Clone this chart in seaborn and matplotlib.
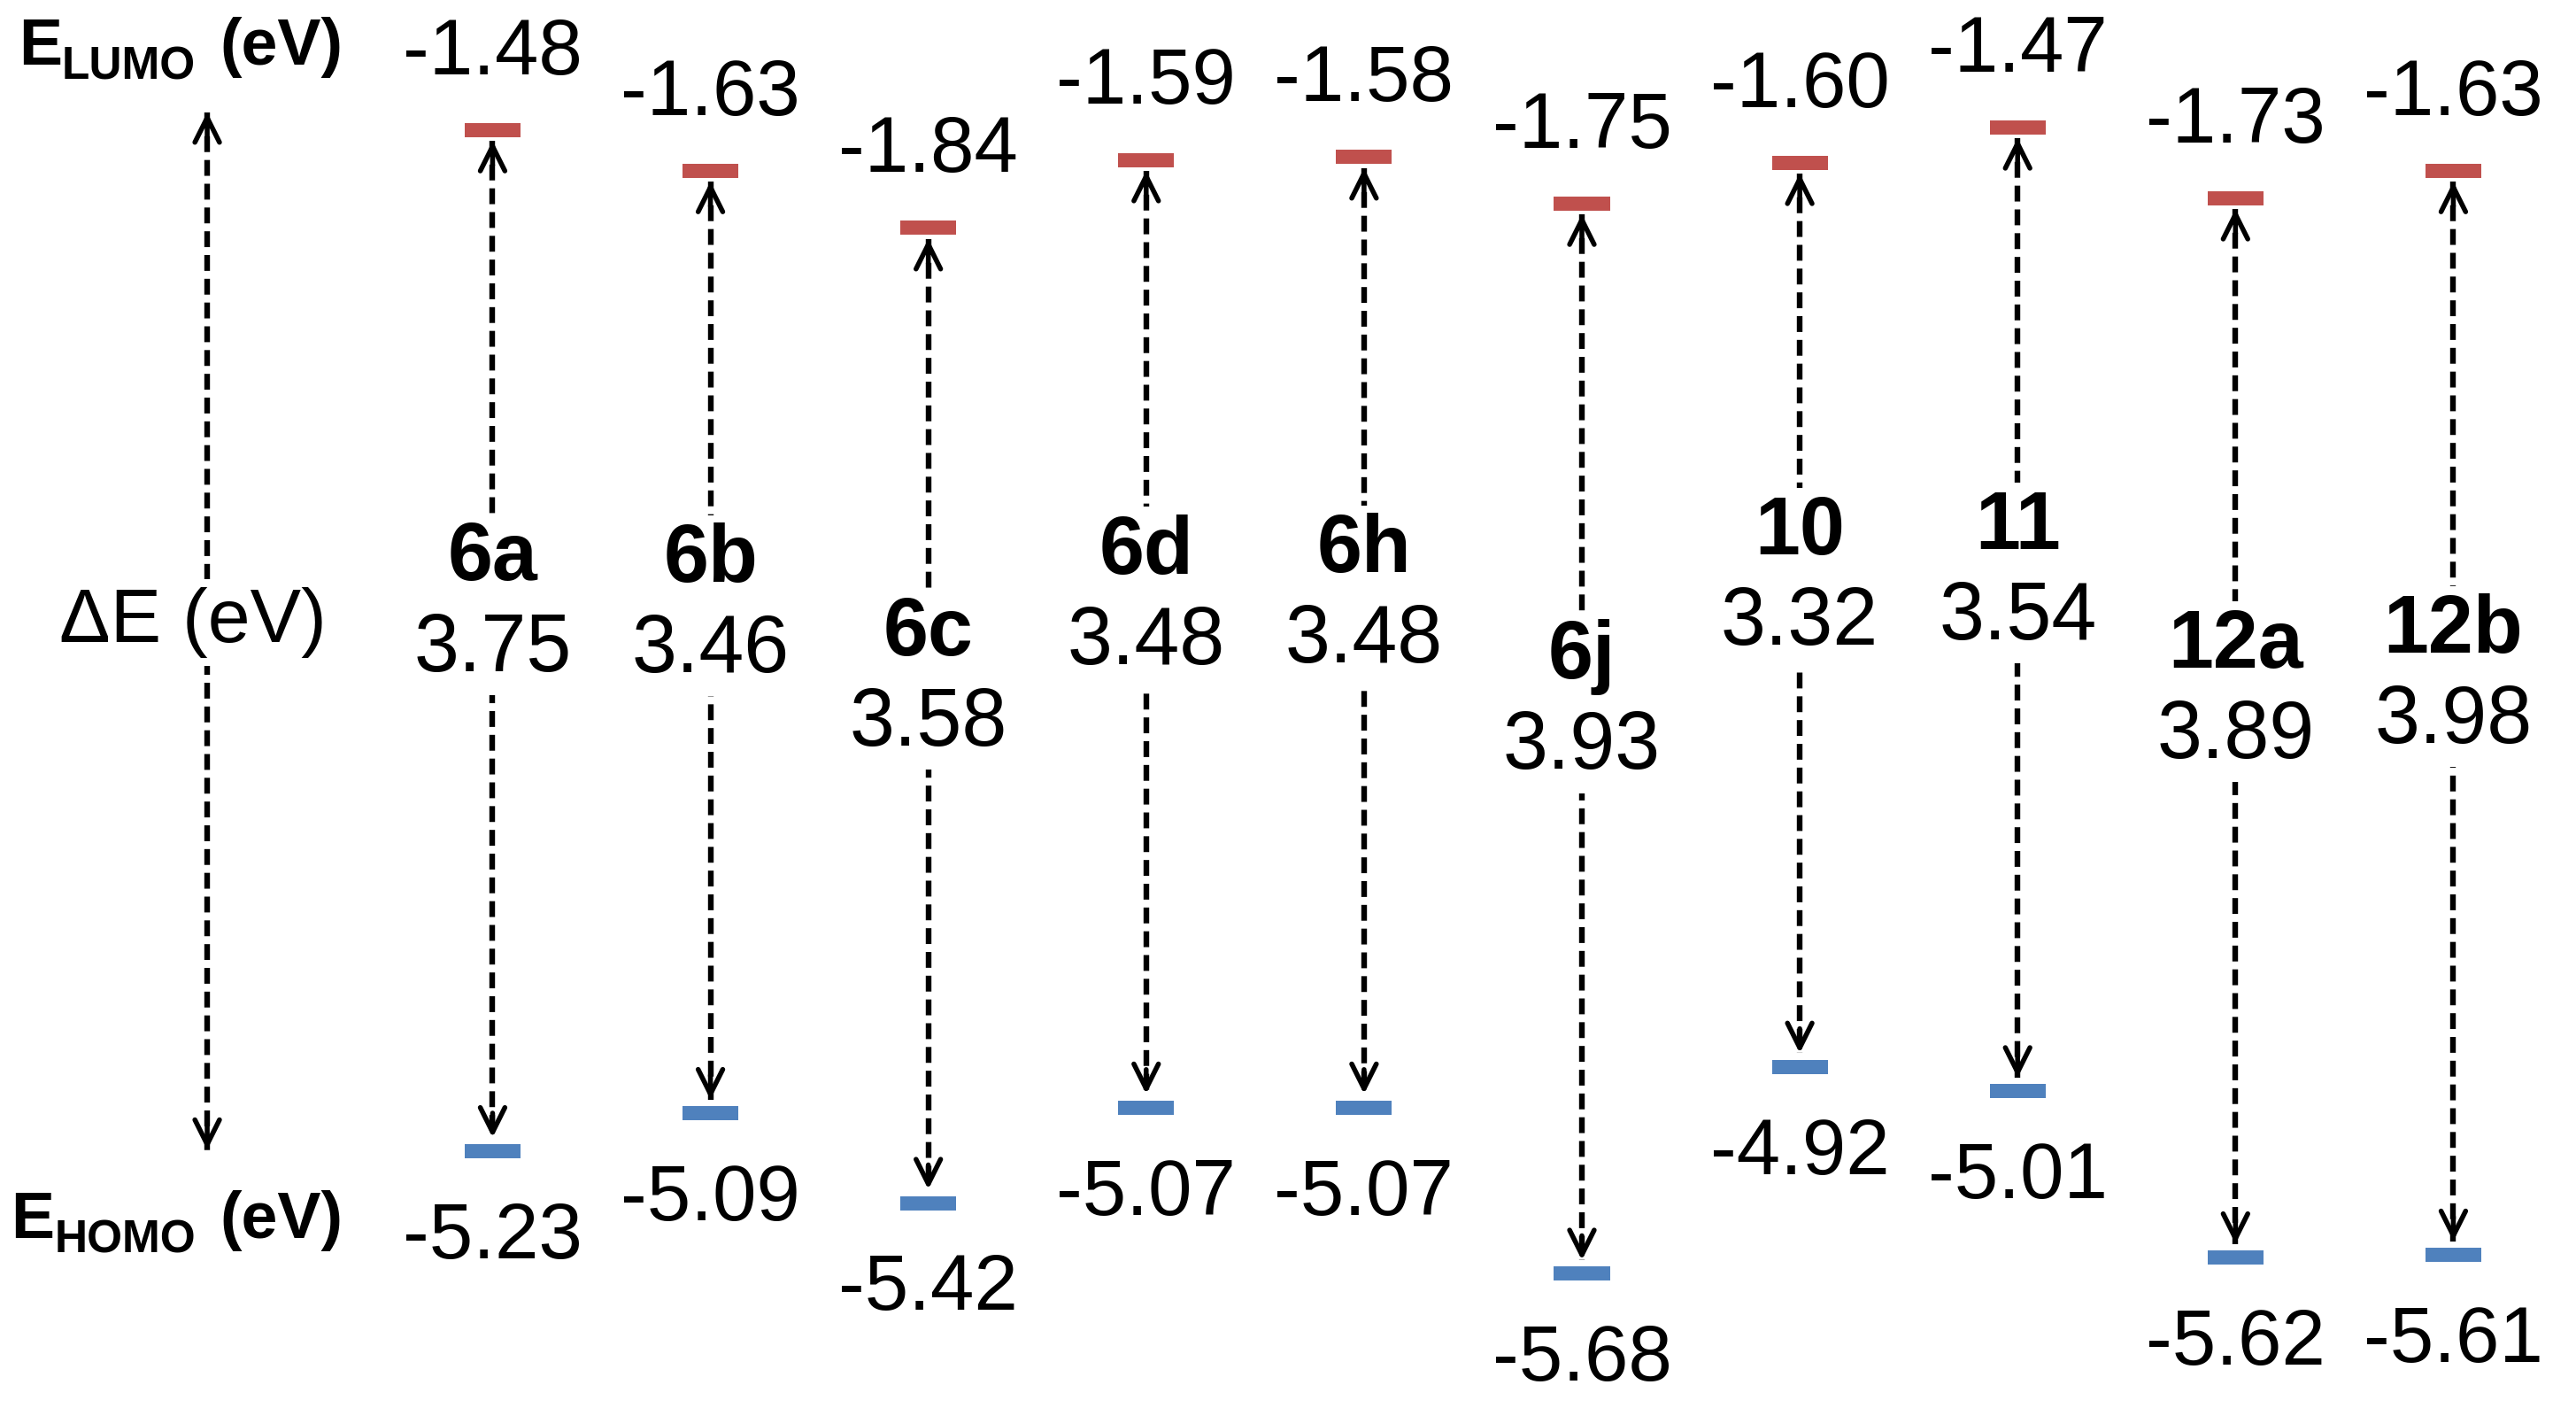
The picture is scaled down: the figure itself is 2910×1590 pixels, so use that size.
import pandas as pd
import numpy as np
import seaborn as sns
import matplotlib
matplotlib.use("Agg")
import matplotlib.pyplot as plt

# frontier orbital energies (eV)
compounds = ['6a', '6b', '6c', '6d', '6h', '6j', '10', '11', '12a', '12b']
lumo = [-1.48, -1.63, -1.84, -1.59, -1.58, -1.75, -1.60, -1.47, -1.73, -1.63]
homo = [-5.23, -5.09, -5.42, -5.07, -5.07, -5.68, -4.92, -5.01, -5.62, -5.61]
gap = [3.75, 3.46, 3.58, 3.48, 3.48, 3.93, 3.32, 3.54, 3.89, 3.98]

sns.set_theme(style="white")
plt.rcParams['font.family'] = ['Liberation Sans', 'DejaVu Sans']
plt.rcParams['text.color'] = 'black'

RED = '#C0504D'
BLUE = '#4F81BD'

fig = plt.figure(figsize=(29.1, 15.9), dpi=100)
ax = fig.add_axes([0, 0, 1, 1])
ax.set_xlim(-2.261, 9.563)
ax.set_ylim(-6.1726, -1.003)
ax.axis('off')

xs = np.arange(len(compounds))
mid = (np.array(lumo) + np.array(homo)) / 2

# dashed connectors, drawn with seaborn (one unit per compound)
rows = []
for c, x, l, h in zip(compounds, xs, lumo, homo):
    rows.append({'compound': c, 'x': x, 'E': l - 0.04})
    rows.append({'compound': c, 'x': x, 'E': h + 0.05})
rows.append({'compound': 'axis', 'x': -1.31, 'E': -1.415})
rows.append({'compound': 'axis', 'x': -1.31, 'E': -5.225})
lines = pd.DataFrame(rows)
sns.lineplot(data=lines, x='x', y='E', units='compound', estimator=None,
             sort=False, color='black', lw=4.6, linestyle=(0, (2.8, 1.4)),
             ax=ax, legend=False)

# arrow heads at both ends of every connector
def heads(x, top, bot):
    for tip, d in ((top, -0.09), (bot, 0.09)):
        ax.annotate('', xy=(x, tip), xytext=(x, tip + d),
                    arrowprops=dict(arrowstyle='->', lw=4, color='black',
                                    mutation_scale=50, shrinkA=0, shrinkB=0))

for x, l, h in zip(xs, lumo, homo):
    heads(x, l - 0.04, h + 0.05)
heads(-1.31, -1.415, -5.225)

# energy levels
ax.hlines(lumo, xs - 0.128, xs + 0.128, colors=RED, lw=11.5, capstyle='butt', zorder=4)
ax.hlines(homo, xs - 0.128, xs + 0.128, colors=BLUE, lw=11.5, capstyle='butt', zorder=4)

# level values
for x, l, h in zip(xs, lumo, homo):
    ax.text(x, l + 0.205, '{:.2f}'.format(l), ha='center', va='baseline', fontsize=64)
    ax.text(x, h - 0.393, '{:.2f}'.format(h), ha='center', va='baseline', fontsize=64)

# compound name and gap in the middle, covering the dashed line
box = dict(facecolor='white', edgecolor='none', pad=6)
for x, c, g, m in zip(xs, compounds, gap, mid):
    ax.text(x, m + 0.221, c, ha='center', va='baseline', fontsize=66,
            fontweight='bold', bbox=box, zorder=5)
    ax.text(x, m - 0.111, '{:.2f}'.format(g), ha='center', va='baseline',
            fontsize=66, bbox=box, zorder=5)

# left-hand labels, right aligned: E + subscript + (eV)
def elabel(xr, y, sub):
    t3 = ax.text(xr, y, '(eV)', ha='right', va='baseline', fontsize=53, fontweight='bold')
    t2 = ax.annotate(sub, xy=(0, 0), xycoords=t3, xytext=(-20, -1),
                     textcoords='offset points', ha='right', va='baseline',
                     fontsize=37, fontweight='bold')
    ax.annotate('E', xy=(0, 0), xycoords=(t2, t3), ha='right', va='bottom',
                fontsize=53, fontweight='bold')

elabel(-0.685, -1.241, 'LUMO')
elabel(-0.685, -5.548, 'HOMO')
ax.text(-1.374, -3.360, '\u0394E (eV)', ha='center', va='baseline', fontsize=62,
        bbox=box, zorder=5)

fig.savefig('out.png', dpi=100, facecolor='white')
